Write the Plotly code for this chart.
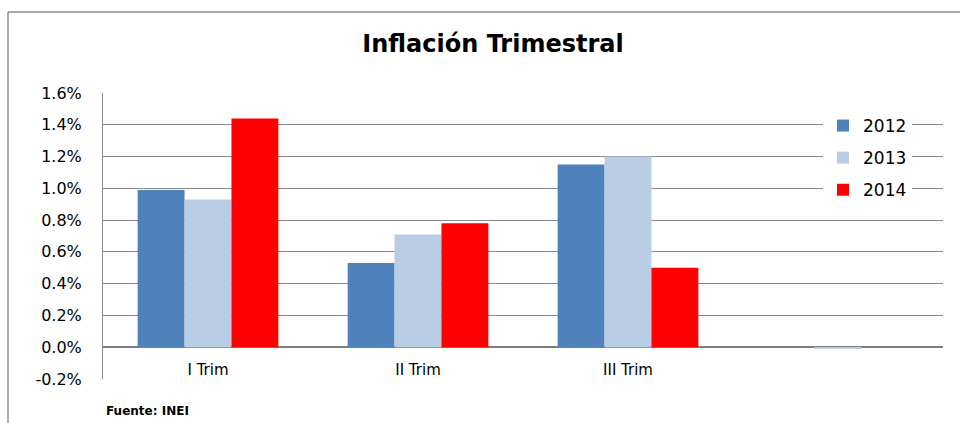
import plotly.graph_objects as go

categories = ["I Trim", "II Trim", "III Trim", " "]
series_names = ["2012", "2013", "2014"]
v2012 = [0.0099, 0.0053, 0.0115, None]
v2013 = [0.0093, 0.0071, 0.0120, -0.0001]
v2014 = [0.0144, 0.0078, 0.0050, None]
colors = ["#4F81BD", "#B9CDE5", "#FF0000"]
ytick_vals = [-0.002, 0.0, 0.002, 0.004, 0.006, 0.008, 0.010, 0.012, 0.014, 0.016]
ytick_text = ["-0.2%", "0.0%", "0.2%", "0.4%", "0.6%", "0.8%", "1.0%", "1.2%", "1.4%", "1.6%"]

FONT = "DejaVu Sans"

fig = go.Figure()
for name, vals, col in zip(series_names, [v2012, v2013, v2014], colors):
    fig.add_trace(go.Bar(x=categories, y=vals, name=name, marker_color=col,
                         marker_line_width=0, legendgroup=name))

L, R, T, B = 103, 17, 93, 44
W, H = 960, 423
pw, ph = W - L - R, H - T - B
def px_x(p):
    return (p - L) / pw
def px_y(p):
    return (H - B - p) / ph

fig.update_layout(
    width=W, height=H,
    margin=dict(l=L, r=R, t=T, b=B, pad=0),
    paper_bgcolor="white", plot_bgcolor="white",
    barmode="group", bargap=0.33, bargroupgap=0,
    title=dict(text="<b>Inflación Trimestral</b>", xref="container", x=493 / W,
               xanchor="center", yref="container", y=1 - 44 / H, yanchor="middle",
               font=dict(family=FONT, size=24, color="black")),
    font=dict(family=FONT, color="black"),
    legend=dict(x=px_x(823), y=px_y(108), xanchor="left", yanchor="top",
                bgcolor="white", font=dict(family=FONT, size=17, color="black"),
                tracegroupgap=7, itemwidth=30),
    showlegend=True,
    xaxis=dict(anchor="free", position=(px_y(347)), showgrid=False, showline=False,
               ticks="", tickfont=dict(family=FONT, size=15, color="black"),
               ticklabelstandoff=12, fixedrange=True),
    yaxis=dict(range=[-0.002, 0.016], tickvals=ytick_vals, ticktext=ytick_text,
               showgrid=True, gridcolor="#8C8C8C", gridwidth=1,
               zeroline=True, zerolinecolor="#7F7F7F", zerolinewidth=2,
               showline=True, linecolor="#8C8C8C", linewidth=1,
               ticks="", ticklabelstandoff=17, fixedrange=True,
               tickfont=dict(family=FONT, size=16, color="black")),
    shapes=[
        dict(type="line", xref="paper", yref="paper", x0=px_x(8), x1=px_x(960),
             y0=px_y(12), y1=px_y(12), line=dict(color="#8C8C8C", width=1.5)),
        dict(type="line", xref="paper", yref="paper", x0=px_x(8), x1=px_x(8),
             y0=px_y(12), y1=px_y(423), line=dict(color="#8C8C8C", width=1.5)),
    ],
    annotations=[
        dict(text="<b>Fuente: INEI</b>", xref="paper", yref="paper",
             x=px_x(104), y=px_y(411), xanchor="left", yanchor="middle",
             showarrow=False, font=dict(family=FONT, size=12, color="black")),
    ],
)

fig.write_html("out.html", config={"displayModeBar": False},
               post_script="document.body.style.margin='0px';document.body.style.overflow='hidden';")
